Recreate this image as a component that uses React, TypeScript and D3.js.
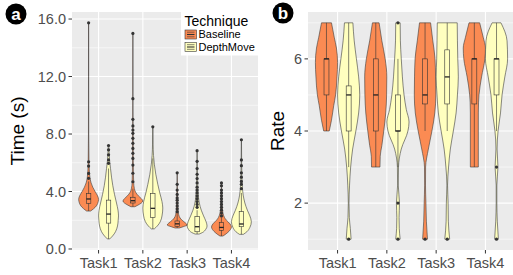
import React from 'react';
import * as d3 from 'd3';

const tasks = ['Task1', 'Task2', 'Task3', 'Task4'];
const techniques = ['Baseline', 'DepthMove'];
const techColors = ['#FB8B53', '#FFFFBF'];

// violin outlines, [value, relative half width], order: Task1 Baseline, Task1 DepthMove, Task2 Baseline, ...
const timeViolins: [number, number][][] = [
  [[2.64, 0.2], [2.8, 0.5], [3.0, 0.78], [3.3, 0.97], [3.45, 1], [3.7, 0.9], [4.0, 0.65], [4.3, 0.42], [4.6, 0.25], [5.0, 0.13], [5.5, 0.07], [6.1, 0.04], [8, 0.015], [12, 0.01], [15.74, 0.01]],
  [[0.7, 0.12], [0.9, 0.4], [1.2, 0.7], [1.6, 0.9], [2.0, 0.97], [2.3, 1], [2.7, 0.95], [3.2, 0.8], [3.8, 0.6], [4.4, 0.43], [5.0, 0.3], [5.6, 0.2], [6.2, 0.1], [6.8, 0.05], [7.2, 0.03]],
  [[2.94, 0.2], [3.05, 0.5], [3.2, 0.85], [3.34, 1], [3.5, 0.85], [3.7, 0.55], [3.92, 0.3], [4.2, 0.15], [4.6, 0.08], [5.3, 0.05], [6.5, 0.035], [8, 0.025], [9, 0.015], [10.5, 0.01], [15.0, 0.008]],
  [[1.4, 0.15], [1.6, 0.45], [1.9, 0.75], [2.3, 0.92], [2.85, 1], [3.3, 0.92], [3.9, 0.7], [4.5, 0.5], [5.2, 0.3], [5.9, 0.15], [6.5, 0.07], [7.3, 0.03], [8.5, 0.015]],
  [[1.46, 0.2], [1.55, 0.6], [1.67, 1], [1.8, 0.85], [2.0, 0.5], [2.15, 0.3], [2.4, 0.15], [2.8, 0.08], [3.3, 0.05], [4.0, 0.03], [4.6, 0.02], [5.3, 0.01]],
  [[1.04, 0.2], [1.15, 0.55], [1.35, 0.85], [1.6, 1], [1.9, 0.9], [2.3, 0.65], [2.7, 0.42], [3.2, 0.22], [3.7, 0.12], [4.5, 0.06], [5.5, 0.03], [6.84, 0.01]],
  [[0.9, 0.15], [1.1, 0.55], [1.35, 0.9], [1.53, 1], [1.75, 0.85], [2.0, 0.5], [2.2, 0.3], [2.5, 0.15], [3.0, 0.07], [3.6, 0.04], [4.2, 0.02], [4.6, 0.01]],
  [[1.02, 0.2], [1.2, 0.55], [1.5, 0.85], [1.9, 1], [2.3, 0.85], [2.7, 0.6], [3.2, 0.35], [3.75, 0.18], [4.3, 0.1], [5.0, 0.05], [6.0, 0.025], [7.6, 0.01]],
];
// [lower whisker, q1, median, q3, upper whisker]
const timeBoxes = [
  [2.64, 3.18, 3.48, 3.85, 4.7],
  [0.7, 1.8, 2.43, 3.4, 5.6],
  [2.94, 3.2, 3.36, 3.6, 4.2],
  [1.4, 2.2, 2.83, 3.87, 6.3],
  [1.46, 1.58, 1.75, 1.95, 2.5],
  [1.04, 1.2, 1.55, 2.25, 2.7],
  [0.9, 1.3, 1.5, 1.85, 2.2],
  [1.02, 1.55, 1.74, 2.6, 3.9],
];
const timeOutliers = [
  [4.92, 5.26, 5.77, 6.07, 15.74],
  [5.96, 6.2, 6.55, 6.9, 7.2],
  [4.68, 5.27, 5.84, 6.3, 6.66, 7.0, 7.35, 7.7, 8.05, 8.28, 8.56, 9.02, 10.46, 15.0],
  [8.5],
  [2.6, 2.8, 3.0, 3.2, 3.4, 3.55, 3.8, 4.1, 4.5, 5.3],
  [2.9, 3.1, 3.3, 3.5, 3.7, 3.9, 4.1, 4.3, 4.6, 4.9, 5.2, 5.6, 6.1, 6.84],
  [2.3, 2.5, 2.7, 2.9, 3.1, 3.3, 3.5, 3.7, 3.9, 4.1, 4.4, 4.6],
  [4.2, 4.5, 4.7, 5.0, 5.3, 5.8, 6.2, 7.6],
];
const timeTicks = [0, 4, 8, 12, 16];
const timeMinor = [2, 6, 10, 14];

const rateViolins: [number, number][][] = [
  [[4, 0.25], [4.3, 0.45], [4.7, 0.65], [5, 0.82], [5.5, 0.95], [5.9, 1], [6.3, 0.9], [6.6, 0.7], [7, 0.45]],
  [[1, 0.22], [1.3, 0.15], [1.6, 0.06], [2, 0.03], [2.5, 0.08], [3, 0.18], [3.5, 0.36], [4, 0.65], [4.5, 0.9], [5, 1], [5.5, 0.9], [6, 0.7], [6.5, 0.5], [7, 0.38]],
  [[3, 0.38], [3.3, 0.4], [3.6, 0.55], [4, 0.72], [4.5, 0.9], [5, 0.98], [5.5, 1], [6, 0.85], [6.5, 0.55], [7, 0.3]],
  [[1, 0.2], [1.3, 0.12], [1.6, 0.1], [2, 0.14], [2.5, 0.03], [3, 0.05], [3.5, 0.3], [4, 0.9], [4.25, 1], [4.6, 0.75], [5, 0.55], [5.5, 0.4], [6, 0.3], [6.5, 0.22], [7, 0.2]],
  [[1, 0.22], [1.5, 0.12], [2, 0.08], [2.5, 0.04], [3, 0.05], [3.5, 0.3], [4, 0.62], [4.5, 0.88], [5, 0.97], [5.5, 0.95], [6, 0.9], [6.5, 0.7], [7, 0.5]],
  [[1, 0.22], [1.5, 0.1], [2, 0.08], [2.5, 0.03], [3, 0.12], [3.5, 0.28], [4, 0.55], [4.5, 0.8], [5, 0.92], [5.5, 1], [6, 0.95], [6.5, 0.92], [7, 0.9]],
  [[3, 0.36], [3.5, 0.36], [4, 0.36], [4.5, 0.36], [4.8, 0.38], [5, 0.42], [5.5, 0.65], [6, 0.95], [6.3, 1], [6.6, 0.8], [7, 0.48]],
  [[1, 0.17], [1.5, 0.07], [2, 0.03], [2.5, 0.03], [3, 0.13], [3.5, 0.05], [4, 0.14], [4.5, 0.36], [5, 0.5], [5.5, 0.75], [6, 1], [6.5, 0.95], [7, 0.4]],
];
const rateBoxes = [
  [4, 5, 6, 6, 7],
  [3, 4, 5, 5.25, 7],
  [3, 4, 5, 6, 7],
  [3, 4, 4, 5, 6],
  [4, 4.75, 5, 6, 7],
  [4, 4.75, 5.5, 6.25, 7],
  [3, 4.75, 6, 6, 7],
  [4, 5, 6, 6, 7],
];
const rateOutliers = [[], [1], [], [1, 2, 7], [1], [1], [], [1, 3]];
const rateTicks = [2, 4, 6];
const rateMinor = [1, 3, 5, 7];

const FONT = '"Liberation Sans", Arial, Helvetica, sans-serif';

interface PanelProps {
  id: string;
  left: number;
  right: number;
  top: number;
  bottom: number;
  yDomain: [number, number];
  ticks: number[];
  minor: number[];
  fmt: (v: number) => string;
  violins: [number, number][][];
  boxes: number[][];
  outliers: number[][];
  title: string;
  titleX: number;
}

function Panel(p: PanelProps) {
  const x = d3.scalePoint<string>().domain(tasks).range([p.left, p.right]).padding(0.6);
  const step = x.step();
  const y = d3.scaleLinear().domain(p.yDomain).range([p.bottom, p.top]);
  const hw = 0.225 * step;
  const boxHw = 0.05 * step;

  const groups = tasks.flatMap((t, ti) =>
    techniques.map((tech, k) => ({ idx: ti * 2 + k, cx: (x(t) as number) + (k === 0 ? -hw : hw), k }))
  );

  return (
    <g>
      <defs>
        <clipPath id={p.id}>
          <rect x={p.left} y={p.top} width={p.right - p.left} height={p.bottom - p.top} />
        </clipPath>
      </defs>
      <rect x={p.left} y={p.top} width={p.right - p.left} height={p.bottom - p.top} fill="#EBEBEB" />
      {p.minor.map(v => (
        <line key={'mi' + v} x1={p.left} x2={p.right} y1={y(v)} y2={y(v)} stroke="#fff" strokeWidth={0.55} />
      ))}
      {p.ticks.map(v => (
        <line key={'ma' + v} x1={p.left} x2={p.right} y1={y(v)} y2={y(v)} stroke="#fff" strokeWidth={1.1} />
      ))}
      {tasks.map(t => (
        <line key={'vx' + t} x1={x(t)} x2={x(t)} y1={p.top} y2={p.bottom} stroke="#fff" strokeWidth={1.1} />
      ))}
      <g clipPath={`url(#${p.id})`}>
        {groups.map(g => {
          const area = d3
            .area<[number, number]>()
            .y(d => y(d[0]))
            .x0(d => g.cx - d[1] * hw)
            .x1(d => g.cx + d[1] * hw)
            .curve(d3.curveMonotoneY);
          const b = p.boxes[g.idx];
          return (
            <g key={'v' + g.idx}>
              <path d={area(p.violins[g.idx]) || ''} fill={techColors[g.k]} stroke="#3a3a3a" strokeWidth={0.6} />
              <line x1={g.cx} x2={g.cx} y1={y(b[0])} y2={y(b[1])} stroke="#333" strokeWidth={0.6} />
              <line x1={g.cx} x2={g.cx} y1={y(b[3])} y2={y(b[4])} stroke="#333" strokeWidth={0.6} />
              <rect x={g.cx - boxHw} y={y(b[3])} width={boxHw * 2} height={y(b[1]) - y(b[3])} fill="none" stroke="#333" strokeWidth={0.6} />
              <line x1={g.cx - boxHw} x2={g.cx + boxHw} y1={y(b[2])} y2={y(b[2])} stroke="#222" strokeWidth={1.3} />
              {p.outliers[g.idx].map((v, i) => (
                <circle key={i} cx={g.cx} cy={y(v)} r={1.6} fill="#333" />
              ))}
            </g>
          );
        })}
      </g>
      {p.ticks.map(v => (
        <g key={'yt' + v}>
          <line x1={p.left - 3.5} x2={p.left} y1={y(v)} y2={y(v)} stroke="#333" strokeWidth={1} />
          <text x={p.left - 6} y={y(v)} dy="0.36em" textAnchor="end" fontSize={14.5} fill="#4D4D4D" fontFamily={FONT}>
            {p.fmt(v)}
          </text>
        </g>
      ))}
      {tasks.map(t => (
        <g key={'xt' + t}>
          <line x1={x(t)} x2={x(t)} y1={p.bottom} y2={p.bottom + 3.5} stroke="#333" strokeWidth={1} />
          <text x={x(t)} y={p.bottom + 18} textAnchor="middle" fontSize={14.5} fill="#4D4D4D" fontFamily={FONT}>
            {t}
          </text>
        </g>
      ))}
      <text
        transform={`translate(${p.titleX},${(p.top + p.bottom) / 2}) rotate(-90)`}
        textAnchor="middle"
        fontSize={19}
        fill="#000"
        fontFamily={FONT}
      >
        {p.title}
      </text>
    </g>
  );
}

function Badge({ cx, cy, label }: { cx: number; cy: number; label: string }) {
  return (
    <g>
      <circle cx={cx} cy={cy} r={10.5} fill="#000" />
      <text x={cx} y={cy} dy="0.35em" textAnchor="middle" fontSize={17} fontWeight="bold" fill="#fff" fontFamily={FONT}>
        {label}
      </text>
    </g>
  );
}

export default function App() {
  return (
    <svg
      width={513}
      height={275}
      style={{ position: 'absolute', left: 0, top: 0, display: 'block', background: '#fff' }}
    >
      <Panel
        id="clipA"
        left={72}
        right={258}
        top={12}
        bottom={250}
        yDomain={[-0.07, 16.49]}
        ticks={timeTicks}
        minor={timeMinor}
        fmt={d3.format('.1f')}
        violins={timeViolins}
        boxes={timeBoxes}
        outliers={timeOutliers}
        title="Time (s)"
        titleX={24}
      />
      <Panel
        id="clipB"
        left={308}
        right={515}
        top={12}
        bottom={250}
        yDomain={[0.7, 7.3]}
        ticks={rateTicks}
        minor={rateMinor}
        fmt={d3.format('d')}
        violins={rateViolins}
        boxes={rateBoxes}
        outliers={rateOutliers}
        title="Rate"
        titleX={284}
      />
      <g>
        <rect x={181} y={11.5} width={80} height={44} fill="#fff" />
        <text x={184.5} y={26} fontSize={14} fill="#000" fontFamily={FONT}>
          Technique
        </text>
        {techniques.map((t, i) => {
          const ky = 30 + i * 12.5;
          return (
            <g key={t}>
              <rect x={185} y={ky} width={11.5} height={9} fill={techColors[i]} stroke="#3a3a3a" strokeWidth={0.6} />
              <line x1={187} x2={194.5} y1={ky + 2.2} y2={ky + 2.2} stroke="#333" strokeWidth={0.6} />
              <line x1={187} x2={194.5} y1={ky + 4.5} y2={ky + 4.5} stroke="#333" strokeWidth={1.1} />
              <line x1={187} x2={194.5} y1={ky + 6.8} y2={ky + 6.8} stroke="#333" strokeWidth={0.6} />
              <text x={198.5} y={ky + 8.3} fontSize={11} fill="#000" fontFamily={FONT}>
                {t}
              </text>
            </g>
          );
        })}
      </g>
      <Badge cx={16} cy={14} label="a" />
      <Badge cx={283} cy={13} label="b" />
    </svg>
  );
}
